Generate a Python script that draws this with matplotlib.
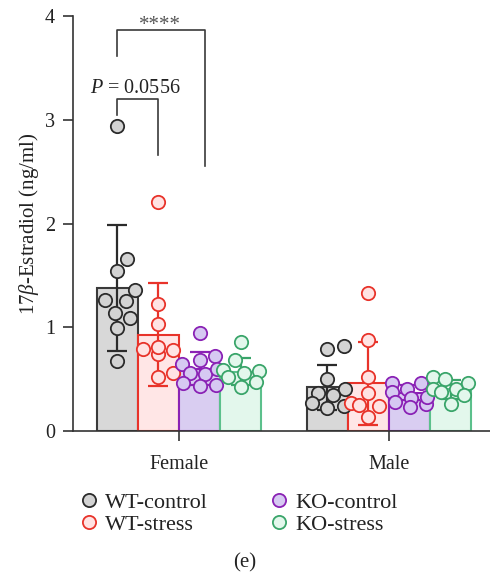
import matplotlib.pyplot as plt
import numpy as np

plt.rcParams['font.family'] = ['Liberation Serif', 'DejaVu Serif']
plt.rcParams['mathtext.fontset'] = 'custom'
plt.rcParams['mathtext.it'] = 'Liberation Serif:italic'
plt.rcParams['mathtext.rm'] = 'Liberation Serif'

# data
groups = ['Female', 'Male']
series = ['WT-control', 'WT-stress', 'KO-control', 'KO-stress']
means = {
    'WT-control': [1.38, 0.42],
    'WT-stress': [0.93, 0.46],
    'KO-control': [0.60, 0.37],
    'KO-stress': [0.57, 0.40],
}
sds = {
    'WT-control': [0.61, 0.22],
    'WT-stress': [0.50, 0.40],
    'KO-control': [0.16, 0.07],
    'KO-stress': [0.13, 0.09],
}
points = {
    'WT-control': [[2.94, 1.66, 1.54, 1.36, 1.25, 1.26, 1.14, 1.09, 0.99, 0.67],
                   [0.79, 0.82, 0.50, 0.40, 0.35, 0.37, 0.27, 0.24, 0.22]],
    'WT-stress': [[2.21, 1.22, 1.03, 0.79, 0.74, 0.81, 0.78, 0.52, 0.56],
                  [1.33, 0.88, 0.52, 0.37, 0.27, 0.25, 0.13, 0.24]],
    'KO-control': [[0.94, 0.68, 0.65, 0.72, 0.56, 0.55, 0.46, 0.43, 0.44, 0.60],
                   [0.46, 0.46, 0.38, 0.40, 0.32, 0.26, 0.28, 0.23, 0.33]],
    'KO-stress': [[0.86, 0.68, 0.59, 0.58, 0.56, 0.52, 0.42, 0.47],
                  [0.52, 0.50, 0.40, 0.46, 0.40, 0.38, 0.26, 0.35]],
}
edge = {'WT-control': '#2b2b2b', 'WT-stress': '#e8332a',
        'KO-control': '#8a22b5', 'KO-stress': '#3aa56a'}
barfill = {'WT-control': '#d8d8d8', 'WT-stress': '#ffe6e6',
           'KO-control': '#d9cdf1', 'KO-stress': '#e3f7ec'}
baredge = {'WT-control': '#3a3a3a', 'WT-stress': '#e8332a',
           'KO-control': '#8a22b5', 'KO-stress': '#5cc08c'}
dotfill = {'WT-control': '#d3d3d3', 'WT-stress': '#ffe3e3',
           'KO-control': '#d6c9f2', 'KO-stress': '#e3f7ec'}


def swarm(vals, xscale=210, yscale=103.75, diam=15.5, maxoff=0.085):
    # simple beeswarm: place each point at the smallest offset that avoids overlap
    order = np.argsort(vals)
    placed = []
    offs = np.zeros(len(vals))
    cands = [0]
    for k in range(1, 14):
        cands += [k * 0.0065, -k * 0.0065]
    for i in order:
        best, best_ov = 0, 1e9
        for c in cands:
            if abs(c) > maxoff:
                continue
            ov = 0
            for (px, py) in placed:
                d = np.hypot((c - px) * xscale, (vals[i] - py) * yscale)
                ov += max(0, diam - d)
            if ov < best_ov - 1e-9:
                best, best_ov = c, ov
            if ov == 0:
                break
        offs[i] = best
        placed.append((best, vals[i]))
    return offs


fig = plt.figure(figsize=(4.9, 5.8), dpi=100)
ax = fig.add_axes([0.149, 0.257, 0.851, 0.715])

x = np.arange(len(groups))
w = 0.196
for j, s in enumerate(series):
    xs = x + (j - 1.5) * w
    ax.bar(xs, means[s], width=w, color=barfill[s], edgecolor=baredge[s],
           linewidth=1.5, zorder=2)
    ax.errorbar(xs, means[s], yerr=sds[s], fmt='none', ecolor=edge[s],
                elinewidth=1.6, capsize=7.5, capthick=1.6, zorder=3)
    for g in range(len(groups)):
        vals = np.array(points[s][g])
        ax.scatter(xs[g] + swarm(vals), vals, s=92, facecolor=dotfill[s],
                   edgecolor=edge[s], linewidth=1.3, zorder=4, clip_on=False)

# significance brackets
c0 = x[0] - 1.5 * w
ax.plot([c0, c0, 0.124, 0.124], [3.62, 3.87, 3.87, 2.56], color='#3a3a3a', lw=1.2)
ax.text(-0.09, 3.91, '****', ha='center', va='center', fontsize=15, color='#555555')
c1 = x[0] - 0.5 * w
ax.plot([c0, c0, c1, c1], [3.05, 3.2, 3.2, 2.66], color='#3a3a3a', lw=1.2)
ax.text(-0.21, 3.255, r'$P$ = 0.0556', ha='center', va='baseline', fontsize=14.5,
        color='#222222')

ax.set_xlim(-0.505, 1.481)
ax.set_ylim(0, 4)
ax.set_yticks([0, 1, 2, 3, 4])
ax.set_xticks(x)
ax.set_xticklabels(groups)
ax.spines['top'].set_visible(False)
ax.spines['right'].set_visible(False)
for sp in ['left', 'bottom']:
    ax.spines[sp].set_color('#333333')
    ax.spines[sp].set_linewidth(1.2)
ax.tick_params(axis='both', length=7, width=1.2, color='#333333', labelsize=14.5,
               colors='#222222')
ax.tick_params(axis='y', pad=6)
ax.tick_params(axis='x', pad=10)
ax.set_ylabel(r'17$\beta$-Estradiol (ng/ml)', fontsize=15, color='#222222', labelpad=3)

handles = [plt.Line2D([], [], ls='none', marker='o', ms=9.5, markerfacecolor=dotfill[s],
                      markeredgecolor=edge[s], markeredgewidth=1.3) for s in series]
leg = fig.legend(handles, series,
                 loc='center', bbox_to_anchor=(0.485, 0.1145), ncol=2, frameon=False,
                 fontsize=16, handletextpad=0.25, columnspacing=2.67,
                 labelspacing=0.05, handlelength=1.0)
for t in leg.get_texts():
    t.set_color('#222222')
fig.text(0.5, 0.029, '(e)', ha='center', va='center', fontsize=15, color='#222222')

fig.savefig('out.png', dpi=100)
